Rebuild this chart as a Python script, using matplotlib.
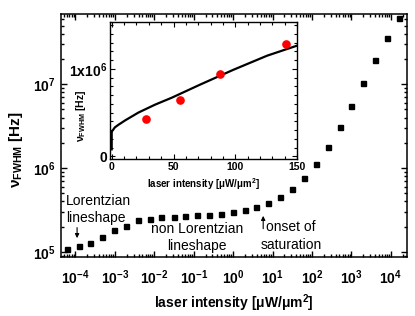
import matplotlib
matplotlib.use('Agg')
import matplotlib.pyplot as plt
from matplotlib.ticker import LogLocator, MultipleLocator, FixedLocator, FixedFormatter, NullFormatter

plt.rcParams['font.family'] = ['Liberation Sans', 'DejaVu Sans']
plt.rcParams['mathtext.fontset'] = 'custom'
plt.rcParams['mathtext.rm'] = 'Liberation Sans:bold'
plt.rcParams['mathtext.it'] = 'Liberation Sans:bold'
plt.rcParams['mathtext.bf'] = 'Liberation Sans:bold'

# ====== DATOS: ancho de linea vs intensidad ======
intensidad = [6e-5, 1.2e-4, 2.4e-4, 4.8e-4, 9.6e-4, 1.9e-3, 3.8e-3, 7.7e-3,
              1.5e-2, 3.1e-2, 6.1e-2, 0.12, 0.25, 0.49, 0.98, 2.0, 3.9, 7.9,
              15.7, 31, 63, 126, 252, 503, 1006, 2013, 4026, 8052, 16100]
ancho_fwhm = [1.08e5, 1.16e5, 1.28e5, 1.50e5, 1.80e5, 2.06e5, 2.37e5, 2.48e5,
              2.57e5, 2.62e5, 2.66e5, 2.72e5, 2.77e5, 2.85e5, 2.96e5, 3.13e5,
              3.40e5, 3.85e5, 4.52e5, 5.69e5, 7.66e5, 1.12e6, 1.78e6, 3.05e6,
              5.51e6, 1.03e7, 1.93e7, 3.56e7, 6.18e7]

# ====== DATOS DEL RECUADRO ======
inset_x_puntos = [27.6, 55.6, 87.8, 140.8]
inset_y_puntos = [0.43e6, 0.64e6, 0.94e6, 1.28e6]
inset_x_curva = [0, 0, 0.3, 1, 2.5, 5.4, 10.8, 21.6, 35, 48.6, 71.6, 98.6, 125.7, 150]
inset_y_curva = [0.08e6, 0.27e6, 0.29e6, 0.30e6, 0.33e6, 0.36e6, 0.41e6, 0.50e6,
                 0.59e6, 0.67e6, 0.82e6, 0.99e6, 1.15e6, 1.265e6]

fig = plt.figure(figsize=(4.15, 3.16), dpi=100)
ax = fig.add_axes([0.147, 0.187, 0.834, 0.769])

ax.plot(intensidad, ancho_fwhm, 's', color='black', ms=3.6, mec='black')
ax.set_xscale('log')
ax.set_yscale('log')
ax.set_xlim(4.3e-5, 2.6e4)
ax.set_ylim(8.7e4, 6.9e7)

ax.xaxis.set_major_locator(FixedLocator([1e-4, 1e-3, 1e-2, 1e-1, 1, 1e1, 1e2, 1e3, 1e4]))
ax.xaxis.set_major_formatter(FixedFormatter(['$10^{-4}$', '$10^{-3}$', '$10^{-2}$', '$10^{-1}$',
                                             '$10^{0}$', '$10^{1}$', '$10^{2}$', '$10^{3}$', '$10^{4}$']))
ax.xaxis.set_minor_locator(LogLocator(base=10, subs=range(2, 10), numticks=30))
ax.xaxis.set_minor_formatter(NullFormatter())
ax.yaxis.set_major_locator(FixedLocator([1e5, 1e6, 1e7]))
ax.yaxis.set_major_formatter(FixedFormatter(['$10^{5}$', '$10^{6}$', '$10^{7}$']))
ax.yaxis.set_minor_locator(LogLocator(base=10, subs=range(2, 10), numticks=30))
ax.yaxis.set_minor_formatter(NullFormatter())

ax.tick_params(which='both', direction='in', top=True, right=True, width=1.0)
ax.tick_params(which='major', length=4, labelsize=10, pad=4)
ax.tick_params(axis='x', which='major', pad=8)
ax.tick_params(which='minor', length=2)
for s in ax.spines.values():
    s.set_linewidth(1.1)

ax.set_xlabel('laser intensity [μW/μm$^2$]', fontsize=10, fontweight='bold')
ax.set_ylabel(r'$\nu_{FWHM}$ [Hz]', fontsize=11, fontweight='bold')
ax.yaxis.set_label_coords(-0.104, 0.44)
ax.xaxis.set_label_coords(0.5, -0.145)

# ====== ANOTACIONES ======
ax.text(5.7e-5, 3.2e5, 'Lorentzian\nlineshape', fontsize=10, ha='left', va='center',
        linespacing=1.3)
ax.annotate('', xy=(1.1e-4, 1.35e5), xytext=(1.1e-4, 2.1e5),
            arrowprops=dict(arrowstyle='-|>', color='black', lw=0.8, mutation_scale=6))
ax.text(0.12, 1.47e5, 'non Lorentzian\nlineshape', fontsize=10, ha='center', va='center',
        linespacing=1.3)
ax.text(29.6, 1.55e5, 'onset of\nsaturation', fontsize=10, ha='center', va='center',
        linespacing=1.3)
ax.annotate('', xy=(5.8, 2.9e5), xytext=(5.8, 1.75e5),
            arrowprops=dict(arrowstyle='-|>', color='black', lw=0.8, mutation_scale=6))

# ====== RECUADRO ======
ins = fig.add_axes([0.265, 0.497, 0.451, 0.432])
ins.plot(inset_x_curva, inset_y_curva, color='black', lw=1.6)
ins.plot(inset_x_puntos, inset_y_puntos, 'o', color='red', ms=5.2, mec='red')
ins.set_xlim(-1.4, 150)
ins.set_ylim(-0.03e6, 1.53e6)
ins.xaxis.set_major_locator(MultipleLocator(50))
ins.xaxis.set_minor_locator(MultipleLocator(10))
ins.yaxis.set_major_locator(FixedLocator([0, 1e6]))
ins.yaxis.set_major_formatter(FixedFormatter(['0', '1x10$^6$']))
ins.yaxis.set_minor_locator(MultipleLocator(1e5))
ins.tick_params(which='both', direction='in', top=True, right=True, width=0.8)
ins.tick_params(which='major', length=3.5, pad=2)
ins.tick_params(which='minor', length=2)
ins.tick_params(axis='x', labelsize=7.5)
ins.tick_params(axis='y', labelsize=10)
for lab in ins.get_xticklabels() + ins.get_yticklabels():
    lab.set_fontweight('bold')
for s in ins.spines.values():
    s.set_linewidth(1.0)
ins.set_xlabel('laser intensity [μW/μm$^2$]', fontsize=7, fontweight='bold', labelpad=3)
ins.set_ylabel(r'$\nu_{FWHM}$ [Hz]', fontsize=7.5, fontweight='bold')
ins.yaxis.set_label_coords(-0.118, 0.315)

fig.savefig('out.png', dpi=100)
